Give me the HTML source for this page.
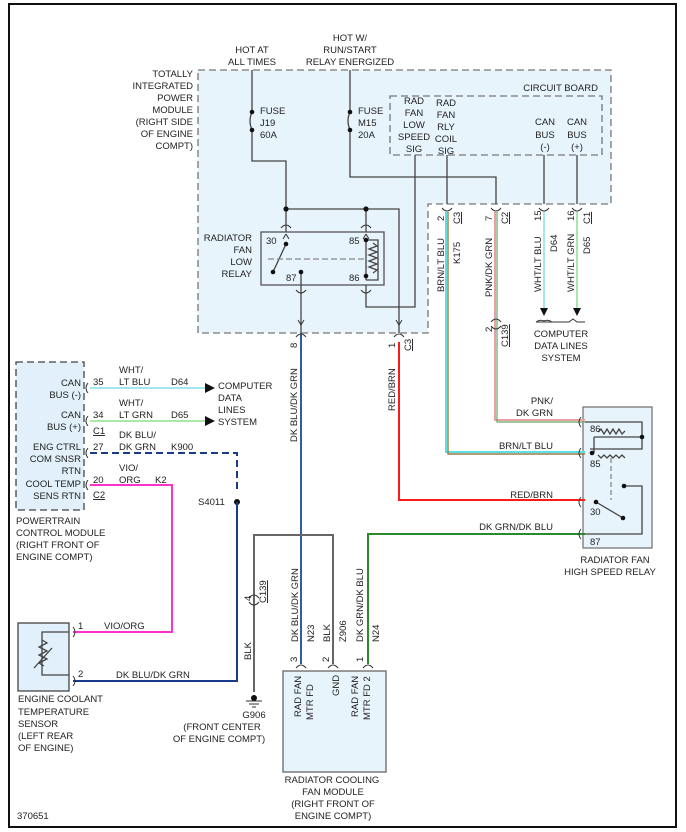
<!DOCTYPE html>
<html><head><meta charset="utf-8"><style>
html,body{margin:0;padding:0;background:#fff}
svg{display:block}
text{font-family:"Liberation Sans",Arial,sans-serif;font-size:9.5px;fill:#222}
.m{text-anchor:middle}.e{text-anchor:end}
</style></head><body>
<svg width="686" height="832" viewBox="0 0 686 832" xmlns="http://www.w3.org/2000/svg">
<rect x="9" y="4" width="667" height="823" fill="none" stroke="#111" stroke-width="2"/>
<polygon points="198,70 611,70 611,204 428,204 428,333 198,333" fill="#e8f4fc" stroke="#777" stroke-width="1.3" stroke-dasharray="7,4"/>
<rect x="390" y="96" width="212" height="59" fill="#e8f4fc" stroke="#777" stroke-width="1.3" stroke-dasharray="7,4"/>
<rect x="16" y="362" width="68" height="148" fill="#e1f0fa" stroke="#444" stroke-width="1.3" stroke-dasharray="7,4"/>
<rect x="261" y="232" width="123" height="53" fill="#e8f4fc" stroke="#555" stroke-width="1.3"/>
<rect x="583" y="407" width="69" height="141" fill="#e8f4fc" stroke="#777" stroke-width="1.3"/>
<rect x="18" y="623" width="51" height="68" fill="#e1f0fa" stroke="#444" stroke-width="1.3"/>
<rect x="283" y="671" width="103" height="101" fill="#e8f4fc" stroke="#666" stroke-width="1.3"/>

<g fill="none" stroke="#444" stroke-width="1.3">
<path d="M252 70V112M252 130V161H286V232"/>
<path d="M252 112q-4 9 0 18"/>
<path d="M286 209H399V333"/>
<path d="M366 209V232"/>
<path d="M350 70V112M350 130V177H496V204"/>
<path d="M350 112q-4 9 0 18"/>
<path d="M415 155V307H366V285"/>
<path d="M447 155V204M544 155V204M577 155V204"/>
<path d="M301 285V333"/>
<path d="M286 244L273 272"/>
<path d="M301 272V285M366 240V280"/>
<path d="M366 240h12v40h-12"/>
<path d="M373 243l4 3-8 3 8 3-8 3 8 3-8 3 8 3-8 3 8 3-4 3"/>
<path d="M268 259H366" stroke-dasharray="6,3" stroke="#888"/>
<path d="M585 422H642V449H590"/>
<path d="M594 437H642"/>
<path d="M594 437V453"/>
<path d="M598 432l3-3 3 5 3-5 3 5 3-5 3 5 3-5 3 5 3-3"/>
<path d="M598 455l3 3 3-3 3 3 3-3 3 3 3-3 3 3 3-3 3 3"/>
<path d="M611 458V500" stroke-dasharray="5,3" stroke="#888"/>
<path d="M596 502L623 518"/>
<path d="M624 486H642V534H585"/>
<path d="M69 632H42V675H69"/>
<path d="M42 640l5 3-8 4 8 4-8 4 8 4-8 4 5 3"/>
<path d="M34 668L52 648"/>
</g>
<g fill="#111">
<circle cx="252" cy="112" r="2.3"/><circle cx="252" cy="130" r="2.3"/>
<circle cx="350" cy="112" r="2.3"/><circle cx="350" cy="130" r="2.3"/>
<circle cx="286" cy="209" r="2.6"/><circle cx="366" cy="209" r="2.6"/>
<circle cx="286" cy="244" r="2.3"/><circle cx="273" cy="272" r="2.3"/>
<circle cx="301" cy="272" r="2.3"/><circle cx="366" cy="240" r="2.3"/><circle cx="366" cy="276" r="2.3"/>
<circle cx="642" cy="437" r="2.3"/><circle cx="592" cy="453" r="2.3"/>
<circle cx="596" cy="502" r="2.3"/><circle cx="623" cy="518" r="2.3"/><circle cx="624" cy="486" r="2.3"/>
<circle cx="237" cy="502" r="3"/>
<path d="M205 383l10 5-10 5z"/><path d="M205 416l10 5-10 5z"/>
<path d="M540 308l8 0-4 8z"/><path d="M573 308l8 0-4 8z"/>
<circle cx="254" cy="698" r="3"/>
</g>
<g fill="none" stroke-width="2">
<path d="M301 333V664" stroke="#2f5e9e"/>
<path d="M399 342V500H585" stroke="#ff1a1a"/>
<path d="M446 212V452H585" stroke="#5ae0e0"/><path d="M448 212V454H585" stroke="#9a7a4a" stroke-width="1.4"/>
<path d="M495 212V420H585" stroke="#e8a0a0"/><path d="M497 212V422H585" stroke="#6aa86a" stroke-width="1.2"/>
<path d="M544 212V308" stroke="#a8e8e8"/>
<path d="M577 212V308" stroke="#a8e8a8"/>
<path d="M585 534H368V664" stroke="#2a8a2a"/>
<path d="M90 388H205" stroke="#a0e8f0"/>
<path d="M90 421H205" stroke="#a8e8a8"/>
<path d="M90 453H237V490" stroke="#1a3a8a" stroke-dasharray="7,4"/>
<path d="M237 502V681H73" stroke="#1a3a8a"/>
<path d="M90 485H172V632H73" stroke="#ff33cc"/>
<path d="M254 692V535H333V664" stroke="#666"/>
</g>
<g fill="none" stroke="#333" stroke-width="1">
<path d="M281 228q5-6 10 0M361 228q5-6 10 0M296 290q5 6 10 0M361 290q5 6 10 0"/>
<path d="M442 208q5 6 10 0M491 208q5 6 10 0M539 208q5 6 10 0M572 208q5 6 10 0"/>
<path d="M296 337q5-6 10 0M394 337q5-6 10 0M491 322q5-6 10 0M491 326q5 6 10 0"/>
<path d="M249 598q5-6 10 0M249 602q5 6 10 0"/>
<path d="M296 668q5-6 10 0M328 668q5-6 10 0M363 668q5-6 10 0"/>
<path d="M88 383q-4 5 0 10M88 416q-4 5 0 10M88 448q-4 5 0 10M88 480q-4 5 0 10"/>
<path d="M73 627q4 5 0 10M73 676q4 5 0 10"/>
<path d="M581 417q-4 5 0 10M581 448q-4 5 0 10M581 497q-4 5 0 10M581 529q-4 5 0 10"/>
<path d="M536 322q4-3 8-1 4-2 8 1M536 322h33l4-3 4 3h8"/>
<path d="M301 325l-3-5M301 325l3-5M399 325l-3-5M399 325l3-5"/>
<path d="M286 234l-3 5M286 234l3 5M366 234l-3 5M366 234l3 5"/>
</g>
<text class="m" x="252" y="53">HOT AT</text><text class="m" x="252" y="65">ALL TIMES</text>
<text class="m" x="350" y="41">HOT W/</text><text class="m" x="350" y="53">RUN/START</text><text class="m" x="350" y="65">RELAY ENERGIZED</text>
<text class="e" x="193" y="77">TOTALLY</text><text class="e" x="193" y="89">INTEGRATED</text><text class="e" x="193" y="101">POWER</text><text class="e" x="193" y="113">MODULE</text><text class="e" x="193" y="125">(RIGHT SIDE</text><text class="e" x="193" y="137">OF ENGINE</text><text class="e" x="193" y="149">COMPT)</text>
<text x="260" y="114">FUSE</text><text x="260" y="126">J19</text><text x="260" y="138">60A</text>
<text x="358" y="114">FUSE</text><text x="358" y="126">M15</text><text x="358" y="138">20A</text>
<text class="e" x="598" y="91">CIRCUIT BOARD</text>
<text class="m" x="414" y="104">RAD</text><text class="m" x="414" y="116">FAN</text><text class="m" x="414" y="128">LOW</text><text class="m" x="414" y="140">SPEED</text><text class="m" x="414" y="152">SIG</text>
<text class="m" x="446" y="106">RAD</text><text class="m" x="446" y="118">FAN</text><text class="m" x="446" y="130">RLY</text><text class="m" x="446" y="142">COIL</text><text class="m" x="446" y="154">SIG</text>
<text class="m" x="545" y="125">CAN</text><text class="m" x="545" y="138">BUS</text><text class="m" x="545" y="150">(-)</text>
<text class="m" x="577" y="125">CAN</text><text class="m" x="577" y="138">BUS</text><text class="m" x="577" y="150">(+)</text>
<text class="e" x="252" y="241">RADIATOR</text><text class="e" x="252" y="253">FAN</text><text class="e" x="252" y="265">LOW</text><text class="e" x="252" y="277">RELAY</text>
<text x="266" y="244">30</text><text x="349" y="244">85</text><text x="286" y="281">87</text><text x="349" y="281">86</text>
<g>
<text transform="rotate(-90 444 221)" x="444" y="221">2</text>
<text transform="rotate(-90 460 224)" x="460" y="224" text-decoration="underline">C3</text>
<text transform="rotate(-90 444 292)" x="444" y="292">BRN/LT BLU</text>
<text transform="rotate(-90 460 264)" x="460" y="264">K175</text>
<text transform="rotate(-90 492 221)" x="492" y="221">7</text>
<text transform="rotate(-90 508 224)" x="508" y="224" text-decoration="underline">C2</text>
<text transform="rotate(-90 492 297)" x="492" y="297">PNK/DK GRN</text>
<text transform="rotate(-90 541 221)" x="541" y="221">15</text>
<text transform="rotate(-90 541 292)" x="541" y="292">WHT/LT BLU</text>
<text transform="rotate(-90 557 252)" x="557" y="252">D64</text>
<text transform="rotate(-90 574 221)" x="574" y="221">16</text>
<text transform="rotate(-90 590 224)" x="590" y="224" text-decoration="underline">C1</text>
<text transform="rotate(-90 574 292)" x="574" y="292">WHT/LT GRN</text>
<text transform="rotate(-90 590 254)" x="590" y="254">D65</text>
<text transform="rotate(-90 297 348)" x="297" y="348">8</text>
<text transform="rotate(-90 297 442)" x="297" y="442">DK BLU/DK GRN</text>
<text transform="rotate(-90 395 348)" x="395" y="348">1</text>
<text transform="rotate(-90 411 351)" x="411" y="351" text-decoration="underline">C3</text>
<text transform="rotate(-90 395 411)" x="395" y="411">RED/BRN</text>
<text transform="rotate(-90 492 332)" x="492" y="332">2</text>
<text transform="rotate(-90 508 347)" x="508" y="347" text-decoration="underline">C139</text>
<text transform="rotate(-90 251 601)" x="251" y="601">4</text>
<text transform="rotate(-90 266 603)" x="266" y="603" text-decoration="underline">C139</text>
<text transform="rotate(-90 251 660)" x="251" y="660">BLK</text>
<text transform="rotate(-90 298 642)" x="298" y="642">DK BLU/DK GRN</text>
<text transform="rotate(-90 314 642)" x="314" y="642">N23</text>
<text transform="rotate(-90 330 642)" x="330" y="642">BLK</text>
<text transform="rotate(-90 346 642)" x="346" y="642">Z906</text>
<text transform="rotate(-90 363 642)" x="363" y="642">DK GRN/DK BLU</text>
<text transform="rotate(-90 379 642)" x="379" y="642">N24</text>
<text transform="rotate(-90 297 662)" x="297" y="662">3</text>
<text transform="rotate(-90 329 662)" x="329" y="662">2</text>
<text transform="rotate(-90 363 662)" x="363" y="662">1</text>
<text transform="rotate(-90 301 717)" x="301" y="717">RAD FAN</text>
<text transform="rotate(-90 313 720)" x="313" y="720">MTR FD</text>
<text transform="rotate(-90 339 696)" x="339" y="696">GND</text>
<text transform="rotate(-90 358 717)" x="358" y="717">RAD FAN</text>
<text transform="rotate(-90 370 720)" x="370" y="720">MTR FD 2</text>
</g>
<text class="m" x="561" y="337">COMPUTER</text><text class="m" x="561" y="349">DATA LINES</text><text class="m" x="561" y="361">SYSTEM</text>
<text class="e" x="553" y="404">PNK/</text><text class="e" x="553" y="416">DK GRN</text>
<text class="e" x="553" y="449">BRN/LT BLU</text>
<text class="e" x="553" y="498">RED/BRN</text>
<text class="e" x="553" y="530">DK GRN/DK BLU</text>
<text x="590" y="432">86</text><text x="590" y="467">85</text><text x="590" y="515">30</text><text x="590" y="545">87</text>
<text class="m" x="615" y="563">RADIATOR FAN</text><text class="m" x="610" y="575">HIGH SPEED RELAY</text>
<text class="e" x="81" y="386">CAN</text><text class="e" x="81" y="398">BUS (-)</text>
<text class="e" x="81" y="418">CAN</text><text class="e" x="81" y="430">BUS (+)</text>
<text class="e" x="81" y="450">ENG CTRL</text><text class="e" x="81" y="462">COM SNSR</text><text class="e" x="81" y="474">RTN</text>
<text class="e" x="81" y="487">COOL TEMP</text><text class="e" x="81" y="499">SENS RTN</text>
<text x="93" y="385">35</text><text x="93" y="418">34</text><text x="93" y="434" text-decoration="underline">C1</text>
<text x="93" y="450">27</text><text x="93" y="483">20</text><text x="93" y="498" text-decoration="underline">C2</text>
<text x="119" y="373">WHT/</text><text x="119" y="385">LT BLU</text><text x="171" y="385">D64</text>
<text x="119" y="406">WHT/</text><text x="119" y="418">LT GRN</text><text x="171" y="418">D65</text>
<text x="119" y="438">DK BLU/</text><text x="119" y="450">DK GRN</text><text x="171" y="450">K900</text>
<text x="119" y="471">VIO/</text><text x="119" y="483">ORG</text><text x="155" y="483">K2</text>
<text x="218" y="389">COMPUTER</text><text x="218" y="401">DATA</text><text x="218" y="413">LINES</text><text x="218" y="425">SYSTEM</text>
<text x="198" y="505">S4011</text>
<text x="16" y="524">POWERTRAIN</text><text x="16" y="536">CONTROL MODULE</text><text x="16" y="548">(RIGHT FRONT OF</text><text x="16" y="560">ENGINE COMPT)</text>
<text x="78" y="629">1</text><text x="78" y="677">2</text>
<text x="104" y="629">VIO/ORG</text><text x="116" y="678">DK BLU/DK GRN</text>
<text x="18" y="702">ENGINE COOLANT</text><text x="18" y="715">TEMPERATURE</text><text x="18" y="727">SENSOR</text><text x="18" y="739">(LEFT REAR</text><text x="18" y="751">OF ENGINE)</text>
<path d="M246 701h16M249 704h10M252 707h4" stroke="#333" fill="none"/>
<text class="m" x="254" y="718">G906</text>
<text class="m" x="222" y="730">(FRONT CENTER</text><text class="m" x="219" y="742">OF ENGINE COMPT)</text>
<text class="m" x="332" y="783">RADIATOR COOLING</text><text class="m" x="333" y="795">FAN MODULE</text><text class="m" x="333" y="807">(RIGHT FRONT OF</text><text class="m" x="333" y="819">ENGINE COMPT)</text>
<text x="17" y="819">370651</text>
</svg>
</body></html>
